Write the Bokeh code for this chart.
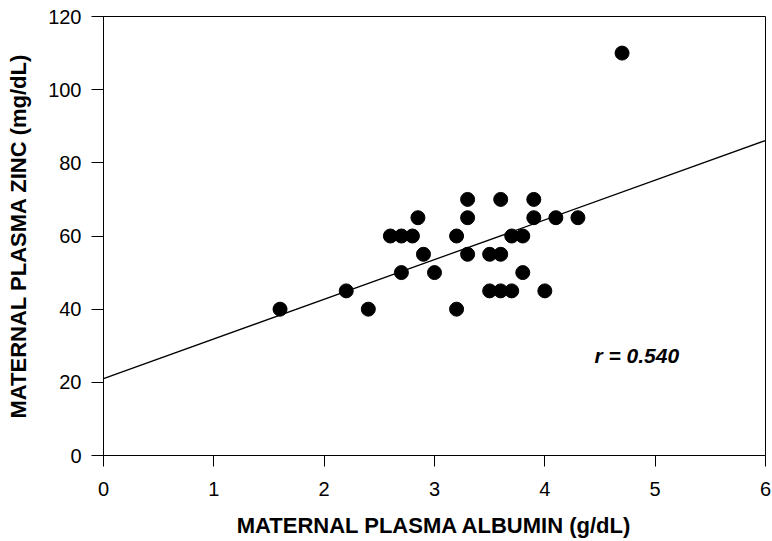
from bokeh.plotting import figure
from bokeh.models import Range1d, Label, FixedTicker
from bokeh.embed import file_html
from bokeh.resources import INLINE

# Data
albumin = [1.6, 2.2, 2.4, 2.6, 2.7, 2.8, 2.85, 2.9, 2.7, 3.0, 3.2, 3.2, 3.3, 3.3, 3.3,
           3.5, 3.6, 3.5, 3.6, 3.7, 3.6, 3.7, 3.8, 3.8, 3.9, 3.9, 4.0, 4.1, 4.3, 4.7]
zinc = [40, 45, 40, 60, 60, 60, 65, 55, 50, 50, 60, 40, 70, 65, 55,
        55, 55, 45, 45, 45, 70, 60, 60, 50, 70, 65, 45, 65, 65, 110]
fit_intercept = 21.0
fit_slope = 10.85
x_ticks = [0, 1, 2, 3, 4, 5, 6]
y_ticks = [0, 20, 40, 60, 80, 100, 120]
r_text = "r = 0.540"
x_title = "MATERNAL PLASMA ALBUMIN (g/dL)"
y_title = "MATERNAL PLASMA ZINC (mg/dL)"

FONT = "Liberation Sans"

p = figure(width=772, height=541, output_backend="svg", toolbar_location=None,
           x_range=Range1d(0, 6), y_range=Range1d(0, 120),
           min_border_left=103, min_border_right=7, min_border_top=16, min_border_bottom=86)
p.xgrid.visible = False
p.ygrid.visible = False
p.outline_line_color = "black"
p.outline_line_width = 1
p.background_fill_color = "white"
p.border_fill_color = "white"

fit_x = [x_ticks[0], x_ticks[-1]]
fit_y = [fit_intercept + fit_slope * v for v in fit_x]
p.line(fit_x, fit_y, line_color="black", line_width=1.3)

p.scatter(albumin, zinc, size=14, fill_color="black", line_color="black")

for ax in (p.xaxis[0], p.yaxis[0]):
    ax.axis_line_color = "black"
    ax.major_tick_line_color = "black"
    ax.major_tick_in = 0
    ax.major_tick_out = 11
    ax.minor_tick_line_color = None
    ax.major_label_text_font = FONT
    ax.major_label_text_font_size = "20px"
    ax.major_label_text_color = "black"
    ax.axis_label_text_font = FONT
    ax.axis_label_text_font_size = "22px"
    ax.axis_label_text_font_style = "bold"
    ax.axis_label_text_color = "black"

p.xaxis.ticker = FixedTicker(ticks=x_ticks)
p.yaxis.ticker = FixedTicker(ticks=y_ticks)
p.xaxis.axis_label = x_title
p.yaxis.axis_label = y_title
p.xaxis.major_label_standoff = 15
p.yaxis.major_label_standoff = 10
p.xaxis.axis_label_standoff = 14
p.yaxis.axis_label_standoff = 14
p.yaxis.major_tick_out = 12

p.add_layout(Label(x=4.45, y=27.3, text=r_text, text_font=FONT, text_font_size="21px",
                   text_font_style="bold italic", text_baseline="middle", text_color="black"))

open("out.html", "w").write(file_html(p, INLINE))
